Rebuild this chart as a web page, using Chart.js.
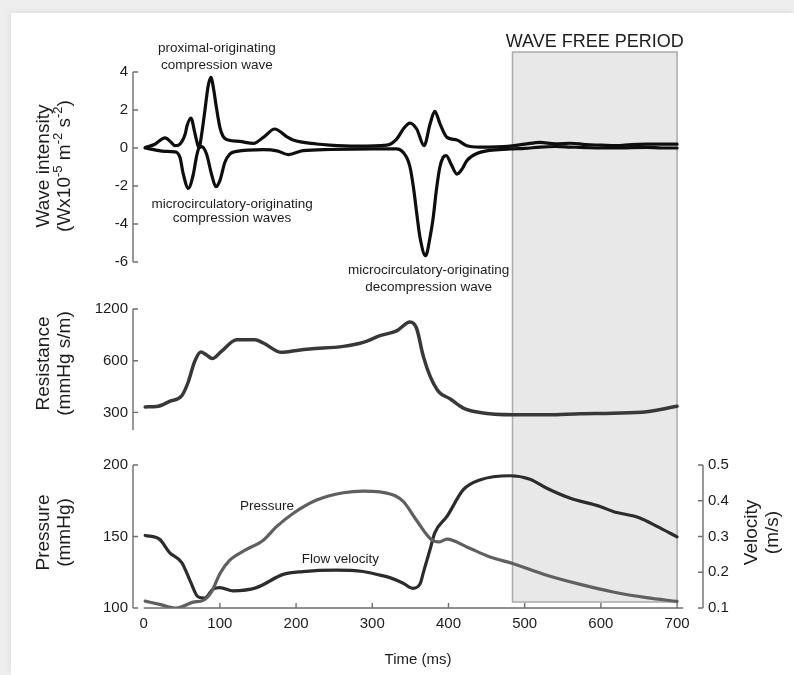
<!DOCTYPE html>
<html lang="en">
<head>
<meta charset="UTF-8">
<title>Wave intensity, resistance, pressure and velocity</title>
<script src="https://cdn.jsdelivr.net/npm/chart.js@4"></script>
<style>
  html, body { margin: 0; padding: 0; background: #fff; }
  #page { position: relative; width: 794px; height: 675px; background: #eeeeee; overflow: hidden; }
  #sheet { position: absolute; left: 11px; top: 13px; right: 0; bottom: 0; background: #fff;
           box-shadow: -2px -2px 5px rgba(0,0,0,0.05); }
  canvas { position: absolute; left: 0; top: 0; }
</style>
</head>
<body>
<div id="page">
  <div id="sheet"></div>
  <canvas id="band" width="794" height="675"></canvas>
  <canvas id="waveChart" width="794" height="675"></canvas>
  <canvas id="resChart" width="794" height="675"></canvas>
  <canvas id="pvChart" width="794" height="675"></canvas>
</div>
<script>
// ---- data ----
const timeTicks = [0, 100, 200, 300, 400, 500, 600, 700];
const waveTicks = [-6, -4, -2, 0, 2, 4];
const resistanceTicks = [300, 600, 1200];
const pressureTicks = [100, 150, 200];
const velocityTicks = [0.1, 0.2, 0.3, 0.4, 0.5];
const wavefreeStart = 484, wavefreeEnd = 700;

// forward (positive) wave intensity
const forwardTime = [2, 14.7, 28, 36, 41, 47.6, 54.5, 57, 62, 67, 69.5, 72.5, 76, 80.3, 84.7, 88.2, 92.2, 94.8, 100, 104.4,
  111, 126, 144, 157, 172, 187.6, 196, 227, 244, 280, 319, 332, 340.7, 349.5, 358.3, 368, 375.8, 382, 389, 398,
  411, 424, 441, 481, 500, 520, 540, 560, 580, 600, 620, 640, 660, 680, 700];
const forwardWave = [0.02, 0.2, 0.53, 0.3, 0.12, 0.21, 0.74, 1.18, 1.58, 0.82, 0.39, 0.0, 0.7, 1.96, 3.28, 3.72, 3.0, 2.3, 1.09, 0.6,
  0.42, 0.35, 0.24, 0.56, 1.0, 0.6, 0.42, 0.21, 0.15, 0.1, 0.15, 0.47, 1.0, 1.31, 1.0, 0.12, 1.26, 1.93, 1.26, 0.56,
  0.42, 0.12, 0.05, 0.1, 0.2, 0.3, 0.22, 0.25, 0.18, 0.15, 0.12, 0.18, 0.2, 0.2, 0.2];

// backward (negative) wave intensity
const backwardTime = [2, 14.7, 28, 41, 47.6, 52, 58.6, 65.2, 69.6, 72.6, 76, 82.5, 89, 94.8, 100, 106.6, 113, 122, 157, 175,
  190, 209, 244, 300, 332, 345, 349.5, 354, 359, 362.6, 370, 375.8, 380, 384, 388.7, 393, 397, 404, 411, 418,
  424, 441, 481, 500, 520, 540, 560, 580, 600, 620, 640, 660, 680, 700];
const backwardWave = [0, -0.1, -0.18, -0.2, -0.49, -1.37, -2.12, -1.37, -0.4, 0.0, 0.07, -0.32, -1.37, -2.04, -1.72, -0.75, -0.32, -0.18, -0.09, -0.15,
  -0.35, -0.14, -0.08, -0.05, -0.05, -0.49, -1.0, -2.07, -3.65, -4.7, -5.67, -4.7, -3.65, -2.25, -1.0, -0.49, -0.4, -0.9, -1.37, -1.1,
  -0.67, -0.23, -0.05, -0.02, 0.05, 0.08, 0.05, 0.02, 0, 0, 0.02, 0.03, 0, 0];

const resistanceTime = [2, 19, 34, 50, 58, 67, 75, 82, 90, 102, 122, 146, 157, 181, 201, 218, 262, 288, 310, 332,
  349.5, 358, 367, 376, 387, 402, 419.5, 441, 485, 529, 573, 616, 660, 700];
const resistance = [323, 326, 348, 375, 445, 595, 674, 650, 617, 680, 795, 795, 761, 671, 689, 702, 727, 767, 839, 895,
  1008, 930, 636, 486, 397, 360, 318, 300, 291, 291, 295, 297, 303, 326];

const pressureTime = [2, 21, 41, 52, 65, 78, 89, 100, 113, 133, 157, 174, 196, 227, 262, 288, 310, 330, 341, 358,
  376, 387, 398, 424, 454.5, 485, 529, 573, 616, 660, 700];
const pressure = [104.8, 102.5, 100, 101.3, 104.1, 105.3, 111.2, 124, 133.4, 140.4, 147.4, 156.7, 166.1, 175.5, 180.6, 181.8, 181.2, 178.5, 174.3, 161.4,
  148.6, 146.2, 148.1, 142.7, 135.7, 131, 122.9, 116.5, 111.2, 107.2, 104.6];

const velocityTime = [2, 21, 34, 50, 61, 71.5, 80, 91, 100, 117.5, 148, 183, 209, 253, 288, 310, 323, 340, 353, 362.6,
  367, 376, 382, 398, 419.5, 441, 481, 507, 529, 560, 599, 616, 651, 673, 700];
const velocity = [0.303, 0.292, 0.255, 0.227, 0.176, 0.131, 0.128, 0.153, 0.157, 0.148, 0.157, 0.194, 0.202, 0.206, 0.202, 0.192, 0.185, 0.17, 0.155, 0.167,
  0.199, 0.265, 0.31, 0.356, 0.431, 0.458, 0.47, 0.46, 0.435, 0.407, 0.384, 0.37, 0.352, 0.329, 0.299];

const waveNotes = [
  { text: 'proximal-originating', x: 96, y: 5.23 },
  { text: 'compression wave', x: 96, y: 4.33 },
  { text: 'microcirculatory-originating', x: 116, y: -2.94 },
  { text: 'compression waves', x: 116, y: -3.72 },
  { text: 'microcirculatory-originating', x: 374, y: -6.46 },
  { text: 'decompression wave', x: 374, y: -7.35 }
];
const pvNotes = [
  { text: 'Pressure', x: 162, y: 171.2 },
  { text: 'Flow velocity', x: 258, y: 133.9 }
];

// ---- drawing helpers ----
const FAMILY = '"Liberation Sans", Arial, Helvetica, sans-serif';
const INK = '#1c1c1c';
Chart.defaults.font.family = FAMILY;
Chart.defaults.color = INK;
Chart.defaults.animation = false;

const pts = (xs, ys) => xs.map((x, i) => ({ x: x, y: ys[i] }));

function line(data, color, width, yAxisID) {
  return { data: data, borderColor: color, borderWidth: width, pointRadius: 0, fill: false,
           cubicInterpolationMode: 'monotone', yAxisID: yAxisID, borderJoinStyle: 'round', borderCapStyle: 'round' };
}

function timeScale(show) {
  return {
    type: 'linear', min: -14, max: 734, display: show,
    grid: { display: false, drawTicks: false }, border: { display: false },
    afterBuildTicks: s => { s.ticks = timeTicks.map(v => ({ value: v })); },
    ticks: { padding: 7, font: { size: 15 }, maxRotation: 0, autoSkip: false },
    title: { display: show, text: 'Time (ms)', font: { size: 15 }, padding: { top: 0, bottom: 6 } },
    afterFit: s => { s.height = show ? 67 : 0; }
  };
}

function sideScale(position, tickValues, extra) {
  return Object.assign({
    position: position,
    grid: { display: false, drawTicks: false }, border: { display: false },
    afterBuildTicks: s => { s.ticks = tickValues.map(v => ({ value: v })); },
    ticks: { padding: 5, font: { size: 15 }, autoSkip: false, callback: v => String(v) },
    afterFit: s => { s.width = position === 'left' ? 133 : 91; }
  }, extra);
}

// axis lines with ticks pointing into the plot
const inwardAxes = {
  id: 'inwardAxes',
  afterDatasetsDraw(chart) {
    const { ctx, chartArea: a } = chart;
    ctx.save();
    ctx.strokeStyle = '#6e6e6e';
    ctx.lineWidth = 1.4;
    Object.values(chart.scales).forEach(s => {
      if (!s.options.display) return;
      ctx.beginPath();
      if (s.axis === 'x') {
        const y = a.bottom;
        ctx.moveTo(s.getPixelForValue(0), y);
        ctx.lineTo(s.getPixelForValue(708), y);
        s.ticks.forEach(t => {
          if (t.value === 0) return;
          const x = s.getPixelForValue(t.value);
          ctx.moveTo(x, y); ctx.lineTo(x, y - 5);
        });
      } else {
        const left = s.position === 'left';
        const x = left ? a.left : a.right;
        ctx.moveTo(x, a.top); ctx.lineTo(x, a.bottom);
        s.ticks.forEach(t => {
          const y = s.getPixelForValue(t.value);
          ctx.moveTo(x, y); ctx.lineTo(x + (left ? 5 : -5), y);
        });
      }
      ctx.stroke();
    });
    ctx.restore();
  }
};

function notesPlugin(notes, yId) {
  return {
    id: 'notes',
    afterDraw(chart) {
      const { ctx } = chart;
      const xs = chart.scales.x, ys = chart.scales[yId];
      ctx.save();
      ctx.font = '13.5px ' + FAMILY;
      ctx.fillStyle = INK;
      ctx.textAlign = 'center';
      ctx.textBaseline = 'middle';
      notes.forEach(n => ctx.fillText(n.text, xs.getPixelForValue(n.x), ys.getPixelForValue(n.y)));
      ctx.restore();
    }
  };
}

// rotated axis title; a part given as {sup: '..'} is drawn as a superscript
function drawVertical(ctx, x, y, parts) {
  const segs = parts.map(p => typeof p === 'string' ? { t: p, size: 19, rise: 0 } : { t: p.sup, size: 13, rise: 7 });
  ctx.save();
  ctx.translate(x, y);
  ctx.rotate(-Math.PI / 2);
  ctx.textBaseline = 'middle';
  ctx.textAlign = 'left';
  ctx.fillStyle = INK;
  let w = 0;
  segs.forEach(s => { ctx.font = s.size + 'px ' + FAMILY; s.w = ctx.measureText(s.t).width; w += s.w; });
  let cx = -w / 2;
  segs.forEach(s => { ctx.font = s.size + 'px ' + FAMILY; ctx.fillText(s.t, cx, -s.rise); cx += s.w; });
  ctx.restore();
}

function titlesPlugin(items) {
  return {
    id: 'sideTitles',
    afterDraw(chart) {
      const a = chart.chartArea;
      const cy = (a.top + a.bottom) / 2;
      items.forEach(it => it.lines.forEach((parts, i) => drawVertical(chart.ctx, it.x + i * 21, cy + it.dy, parts)));
    }
  };
}

// ---- panel 1: wave intensity ----
const waveChart = new Chart(document.getElementById('waveChart'), {
  type: 'line',
  data: { datasets: [
    line(pts(forwardTime, forwardWave), '#0e0e0e', 3.2, 'y'),
    line(pts(backwardTime, backwardWave), '#0e0e0e', 3.2, 'y')
  ] },
  options: {
    responsive: false,
    layout: { padding: { top: 72, bottom: 413, left: 0, right: 91 } },
    plugins: { legend: { display: false }, tooltip: { enabled: false } },
    scales: {
      x: timeScale(false),
      y: sideScale('left', waveTicks, { min: -6, max: 4 })
    }
  },
  plugins: [inwardAxes, notesPlugin(waveNotes, 'y'),
    titlesPlugin([{ x: 44, dy: -1, lines: [['Wave intensity'],
      ['(Wx10', { sup: '-5' }, ' m', { sup: '-2' }, ' s', { sup: '-2' }, ')']] }])]
});

// ---- panel 2: resistance (log axis) ----
const resChart = new Chart(document.getElementById('resChart'), {
  type: 'line',
  data: { datasets: [ line(pts(resistanceTime, resistance), '#383838', 3.5, 'y') ] },
  options: {
    responsive: false,
    layout: { padding: { top: 309, bottom: 245, left: 0, right: 91 } },
    plugins: { legend: { display: false }, tooltip: { enabled: false } },
    scales: {
      x: timeScale(false),
      y: sideScale('left', resistanceTicks, { type: 'logarithmic', min: 237, max: 1200 })
    }
  },
  plugins: [inwardAxes, titlesPlugin([{ x: 44, dy: -6, lines: [['Resistance'], ['(mmHg s/m)']] }])]
});

// ---- panel 3: pressure and flow velocity ----
const pvChart = new Chart(document.getElementById('pvChart'), {
  type: 'line',
  data: { datasets: [
    line(pts(pressureTime, pressure), '#5f5f5f', 3.2, 'yP'),
    line(pts(velocityTime, velocity), '#2c2c2c', 3.2, 'yV')
  ] },
  options: {
    responsive: false,
    layout: { padding: { top: 465, bottom: 0, left: 0, right: 0 } },
    plugins: { legend: { display: false }, tooltip: { enabled: false } },
    scales: {
      x: timeScale(true),
      yP: sideScale('left', pressureTicks, { min: 100, max: 200 }),
      yV: sideScale('right', velocityTicks, { min: 0.1, max: 0.5,
        ticks: { padding: 5, font: { size: 15 }, autoSkip: false, callback: v => Number(v).toFixed(1) } })
    }
  },
  plugins: [inwardAxes, notesPlugin(pvNotes, 'yP'),
    titlesPlugin([{ x: 44, dy: -4, lines: [['Pressure'], ['(mmHg)']] },
                  { x: 752, dy: -4, lines: [['Velocity'], ['(m/s)']] }])]
});

// ---- wave free period band behind all panels ----
(function drawBand() {
  const ctx = document.getElementById('band').getContext('2d');
  const xs = pvChart.scales.x;
  const left = xs.getPixelForValue(wavefreeStart), right = xs.getPixelForValue(wavefreeEnd);
  const top = waveChart.chartArea.top - 20, bottom = pvChart.chartArea.bottom - 6;
  ctx.fillStyle = '#e8e8e8';
  ctx.fillRect(left, top, right - left, bottom - top);
  ctx.strokeStyle = '#ababab';
  ctx.lineWidth = 1.5;
  ctx.strokeRect(left, top, right - left, bottom - top);
  ctx.fillStyle = INK;
  ctx.font = '18px ' + FAMILY;
  ctx.textAlign = 'center';
  ctx.textBaseline = 'middle';
  ctx.fillText('WAVE FREE PERIOD', (left + right) / 2, top - 10);
})();
</script>
</body>
</html>
